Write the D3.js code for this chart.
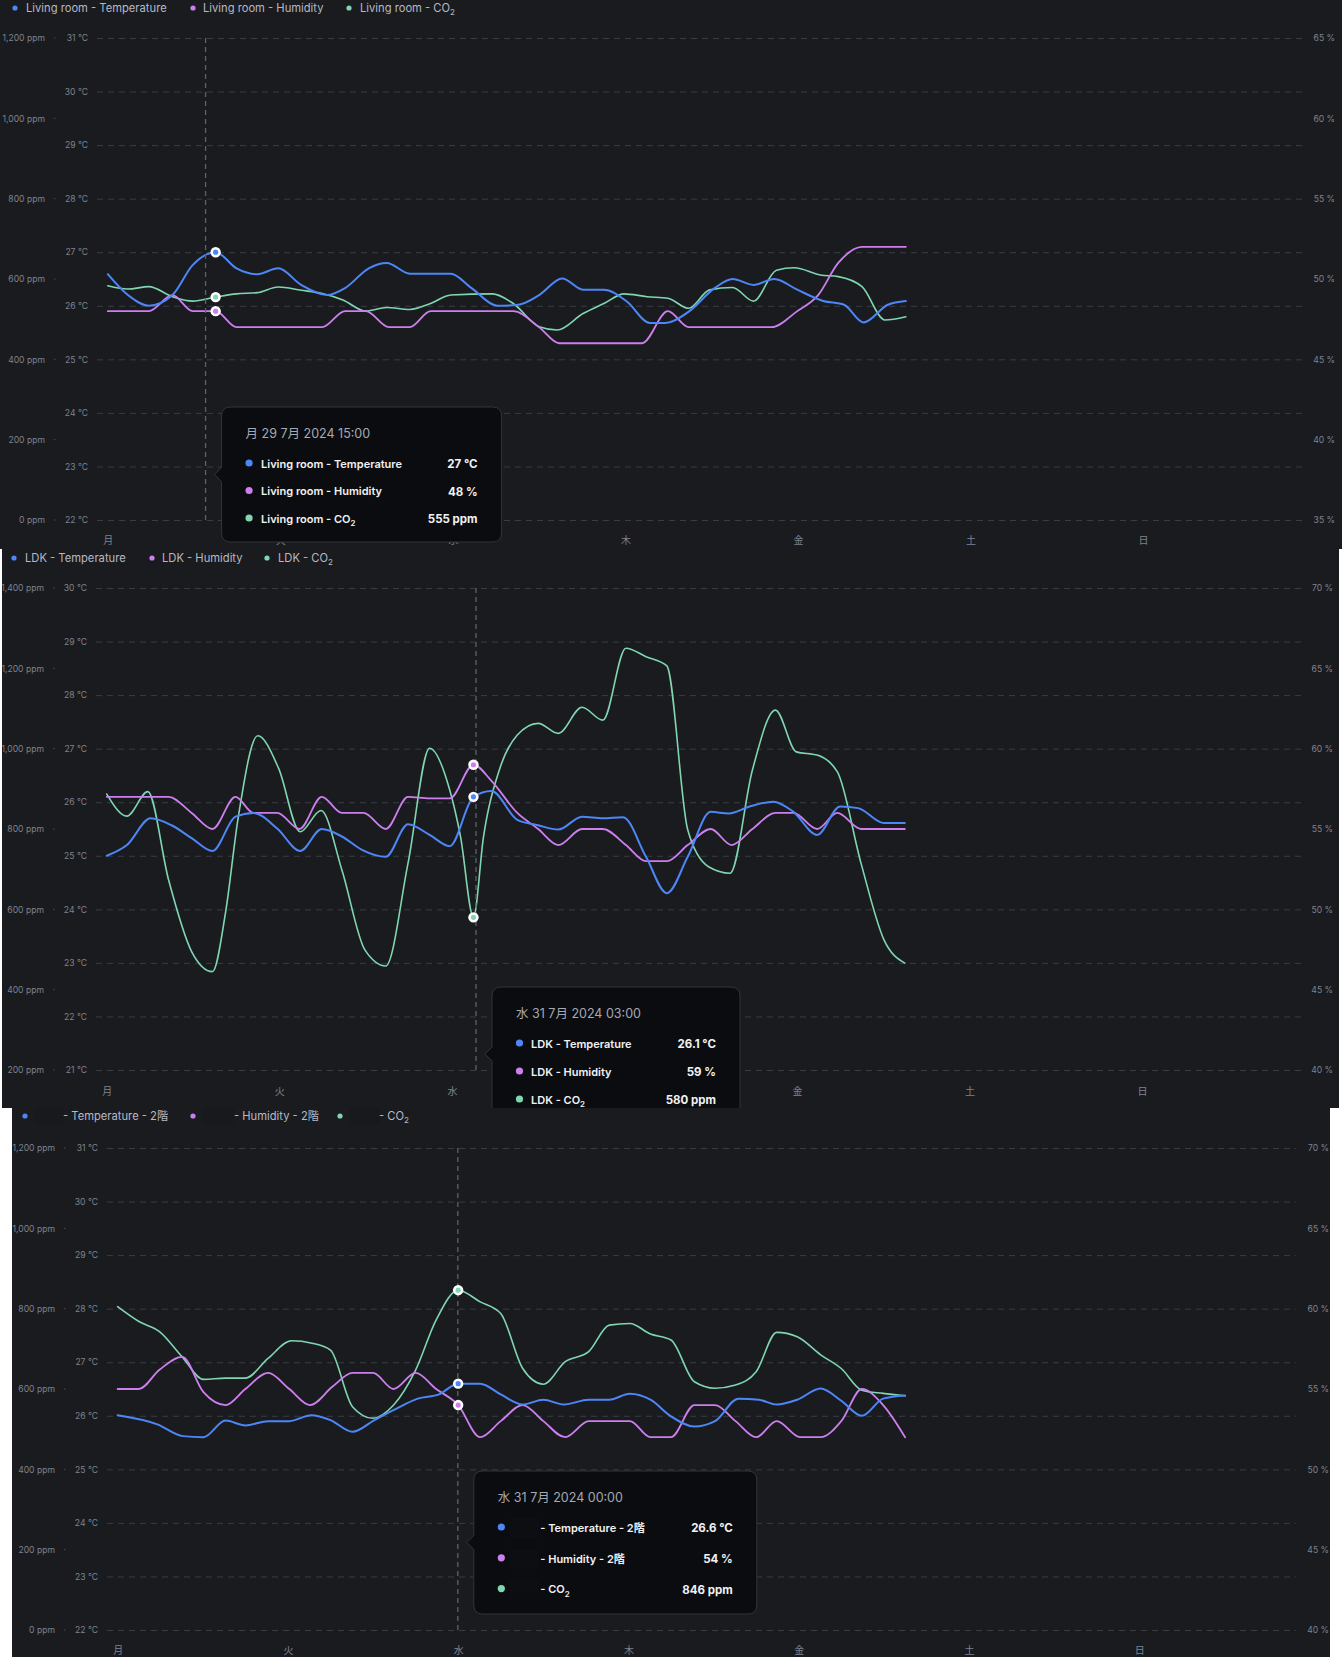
<!DOCTYPE html>
<html><head><meta charset="utf-8">
<script src="https://cdn.jsdelivr.net/npm/d3@7"></script>
<style>
html,body{margin:0;padding:0;background:#ffffff;}
svg{display:block;font-family:Inter,"Noto Sans CJK JP",sans-serif;}
</style></head><body>
<svg id="c" width="1342" height="1657"></svg>
<script>
// ---------------- DATA ----------------
const days = ["月","火","水","木","金","土","日"];
const dayTicks = [0,24,48,72,96,120,144];           // hours from Monday 00:00
const hourDomain = [-1.5,166.1];

// Panel 1 : Living room  [hour, value]
const lrLabels = ["Living room - Temperature","Living room - Humidity","Living room - CO₂"];
const lrTemp = [[0,26.59],[2.8,26.2],[5.7,26.0],[9,26.2],[11.8,26.76],[15,27.0],[17.9,26.7],[20.8,26.59],[23.7,26.7],[26.9,26.39],[30.5,26.2],[33,26.33],[36.3,26.7],[38.8,26.8],[42,26.6],[47.7,26.6],[50.6,26.33],[54.2,26.0],[57.1,26.02],[60,26.2],[63.2,26.51],[66.1,26.3],[69,26.3],[72.2,26.08],[75.4,25.68],[77.6,25.68],[80.8,25.89],[84.4,26.33],[86.9,26.5],[89.8,26.39],[92.7,26.5],[95.9,26.3],[99.5,26.09],[102.4,26.02],[105.1,25.69],[108.5,26.02],[111,26.09]];
const lrHum = [[0,48],[5.7,48],[9,49],[11.8,48],[15,48],[17.9,47],[29.8,47],[33,48],[35.9,48],[39.1,47],[42,47],[44.9,48],[56.4,48],[60,47],[62.8,46],[74.3,46],[77.9,48],[80.8,47],[92.3,47],[95.9,48],[98.8,49],[101.6,51],[104.9,52],[111,52]];
const lrCo2 = [[0,583],[2.8,575],[5.7,581],[9,556],[11.8,545],[15,555],[17.9,563],[20.8,566],[23.7,580],[26.9,572],[29.8,564],[32.7,548],[35.9,520],[38.8,529],[42,524],[44.9,539],[47.7,560],[53.5,563],[56.4,539],[60,481],[62.5,473],[66.1,514],[69,539],[71.8,563],[75,556],[77.9,552],[80.8,527],[83.7,573],[86.9,579],[89.8,545],[93,622],[95.5,628],[99.1,610],[101.6,606],[104.9,581],[108.1,498],[111,506]];
const lrTempTicks = [22,23,24,25,26,27,28,29,30,31];
const lrHumTicks = [35,40,45,50,55,60,65];
const lrCo2Ticks = [0,200,400,600,800,1000,1200];
const lrTip = {title:"月 29 7月 2024 15:00", hour:15, values:["27 °C","48 %","555 ppm"]};

// Panel 2 : LDK
const ldkLabels = ["LDK - Temperature","LDK - Humidity","LDK - CO₂"];
const ldkTemp = [[0,25.0],[2.8,25.2],[6.1,25.7],[9,25.57],[11.8,25.33],[14.7,25.09],[17.9,25.73],[20.4,25.8],[23.7,25.51],[26.9,25.09],[29.9,25.5],[32.7,25.36],[35.5,25.11],[38.8,24.98],[41.9,25.59],[44.9,25.39],[47.7,25.18],[51,26.1],[53.5,26.21],[57.1,25.67],[60,25.57],[62.8,25.49],[66.1,25.73],[69,25.70],[71.8,25.72],[75,24.98],[77.9,24.30],[80.8,24.98],[84,25.82],[86.5,25.79],[89.4,25.92],[92.7,26.01],[95.5,25.82],[98.8,25.39],[102,25.92],[104.5,25.89],[108.1,25.61],[111,25.61]];
const ldkHum = [[0,57],[8.6,57],[11.8,56],[14.7,55],[17.9,57],[20.4,56],[23.7,56],[26.8,55],[29.9,57],[32.7,56],[35.7,56],[38.8,55],[41.9,57],[44.9,56.9],[47.7,56.9],[51,59],[53.5,58],[57.1,56],[60,55],[62.8,54],[66.1,55],[69,55],[72.2,54],[75,53],[77.9,53],[80.8,54],[84,55],[86.9,54],[89.8,55],[93,56],[95.5,56],[98.8,55],[101.6,56],[104.9,55],[111,55]];
const ldkCo2 = [[0,887],[2.8,832],[5.7,893],[8.6,673],[11.8,495],[14.7,445],[16.5,590],[18.3,831],[21,1032],[23.9,951],[26.9,793],[29.8,846],[32.7,698],[35.9,499],[38.8,459],[41.9,715],[44.9,1001],[47.7,897],[49.2,781],[51,580],[52.4,781],[54.6,947],[57.1,1034],[60,1063],[62.8,1038],[66.1,1103],[69,1071],[72.2,1250],[75,1229],[77.9,1206],[80.8,798],[83.7,706],[86.7,690],[89.8,947],[93,1096],[95.9,992],[98.8,984],[101.6,943],[104.9,715],[108.1,524],[111,466]];
const ldkTempTicks = [21,22,23,24,25,26,27,28,29,30];
const ldkHumTicks = [40,45,50,55,60,65,70];
const ldkCo2Ticks = [200,400,600,800,1000,1200,1400];
const ldkTip = {title:"水 31 7月 2024 03:00", hour:51, values:["26.1 °C","59 %","580 ppm"]};

// Panel 3 : 2階
const upLabels = ["- Temperature - 2階","- Humidity - 2階","- CO₂"];
const upTemp = [[0,26.01],[5.6,25.84],[9.2,25.62],[12.1,25.60],[15.2,25.91],[18,25.82],[21.2,25.90],[24.2,25.90],[27.3,26.01],[30,25.92],[33.1,25.70],[36.2,25.92],[39.1,26.12],[42.3,26.32],[45.3,26.40],[48,26.6],[51.1,26.60],[54,26.40],[57.1,26.21],[60,26.30],[62.9,26.21],[66.4,26.30],[69.3,26.30],[72.2,26.41],[75.1,26.30],[78,25.99],[81.3,25.80],[84.2,25.90],[87.5,26.32],[90.4,26.30],[92.9,26.21],[95.8,26.30],[99.1,26.51],[102,26.28],[104.9,26.0],[107.9,26.32],[111,26.38]];
const upHum = [[0,55],[3,55],[5.9,56.2],[9.1,57],[12.1,54.8],[15.2,54],[18,55],[21.2,56],[24.2,55],[27.1,54],[30.3,55.15],[33.1,56],[36,56],[38.9,55],[42,56],[44.9,55],[48,54],[51.1,52],[54,53],[57.1,54],[60,53],[63.1,52],[66.4,53],[69.3,53],[72.2,53],[75.1,52],[78,52],[81.3,54],[84.2,54],[87.1,53],[90,52],[92.9,53],[96.2,52],[99.1,52],[102,53],[104.9,55],[107.9,54],[111,52]];
const upCo2 = [[0,805],[3,768],[5.9,743],[9.1,680],[12.1,624],[15.2,627],[18,627],[21.2,676],[24.5,720],[27.4,714],[30,697],[33.1,556],[36,527],[38.9,560],[42,647],[44.9,772],[48,846],[51.1,817],[54,788],[57.1,651],[60,612],[63.1,668],[66.4,693],[69.3,759],[72.2,763],[75.1,737],[78,722],[81.3,618],[84.2,602],[87.1,610],[90,643],[92.9,741],[95.8,730],[99.1,685],[102,651],[104.9,597],[107.9,589],[111,583]];
const upTempTicks = [22,23,24,25,26,27,28,29,30,31];
const upHumTicks = [40,45,50,55,60,65,70];
const upCo2Ticks = [0,200,400,600,800,1000,1200];
const upTip = {title:"水 31 7月 2024 00:00", hour:48, values:["26.6 °C","54 %","846 ppm"]};

const pointerHours = [13.6, 51.35, 47.95];   // crosshair (mouse) positions

// ---------------- STYLE / LAYOUT ----------------
const COLORS = ["#4d86f7","#cd7ff0","#7fd6b0"];
const BG = "#1a1b1f", GRID = "#3a3c44", AXTXT = "#7f838e", LEGTXT = "#b6b9c3";
const AXFONT = 8.6, LEGFONT = 11.2, TIPFONT = 11;

const panels = [
  {box:[0,0,1342,549], left:97, right:1302, top:38, bottom:520, legY:8, legDot:[15,193,349], legTxt:[26,203,360],
   ppmX:45, tempX:88, pctX:1335, xLabY:540, tipTop:407, tipW:280, tipH:135, rowGap:27.5, lblOff:39.5, redact:false,
   labels:lrLabels, series:[lrTemp,lrHum,lrCo2], tDom:[22,31], hDom:[35,65], cDom:[0,1200],
   tTicks:lrTempTicks, hTicks:lrHumTicks, cTicks:lrCo2Ticks, tip:lrTip},
  {box:[2,549,1337,559], left:96, right:1301, top:588, bottom:1070, legY:558, legDot:[14,152,267], legTxt:[25,162,278],
   ppmX:44, tempX:87, pctX:1333, xLabY:1091, tipTop:987, tipW:248, tipH:134, rowGap:28, lblOff:39, redact:false,
   labels:ldkLabels, series:[ldkTemp,ldkHum,ldkCo2], tDom:[21,30], hDom:[40,70], cDom:[200,1400],
   tTicks:ldkTempTicks, hTicks:ldkHumTicks, cTicks:ldkCo2Ticks, tip:ldkTip},
  {box:[12,1108,1318,549], left:107, right:1296, top:1148, bottom:1630, legY:1116, legDot:[25,193,340], legTxt:[63,234,379],
   ppmX:55, tempX:98, pctX:1329, xLabY:1650, tipTop:1471, tipW:283, tipH:143, rowGap:30.8, lblOff:66.5, redact:true,
   labels:upLabels, series:[upTemp,upHum,upCo2], tDom:[22,31], hDom:[40,70], cDom:[0,1200],
   tTicks:upTempTicks, hTicks:upHumTicks, cTicks:upCo2Ticks, tip:upTip}
];

const svg = d3.select("#c");
svg.append("rect").attr("width",1342).attr("height",1657).attr("fill","#ffffff");
const defs = svg.append("defs");

function addLabel(sel, str, size){
  const parts = str.split("₂");
  sel.text(null);
  sel.append("tspan").text(parts[0]);
  if (parts.length > 1){
    sel.append("tspan").attr("font-size", size*0.72).attr("dy", size*0.3).text("2");
    if (parts[1]) sel.append("tspan").attr("dy", -size*0.3).text(parts[1]);
  }
}

panels.forEach((p, pi) => {
  const [bx,by,bw,bh] = p.box;
  defs.append("clipPath").attr("id","clip"+pi).append("rect")
    .attr("x",bx).attr("y",by).attr("width",bw).attr("height",bh);
  const g = svg.append("g").attr("clip-path",`url(#clip${pi})`);
  g.append("rect").attr("x",bx).attr("y",by).attr("width",bw).attr("height",bh).attr("fill",BG);

  const x = d3.scaleLinear().domain(hourDomain).range([p.left,p.right]);
  const yT = d3.scaleLinear().domain(p.tDom).range([p.bottom,p.top]);
  const yH = d3.scaleLinear().domain(p.hDom).range([p.bottom,p.top]);
  const yC = d3.scaleLinear().domain(p.cDom).range([p.bottom,p.top]);
  const scales = [yT,yH,yC];

  // grid
  const grid = g.append("g").attr("transform",`translate(${p.left},0)`)
    .call(d3.axisLeft(yT).tickValues(p.tTicks).tickSize(-(p.right-p.left)).tickFormat(""));
  grid.select(".domain").remove();
  grid.selectAll("line").attr("stroke",GRID).attr("stroke-dasharray","6,5").attr("stroke-width",1);

  const styleAxis = (ax) => {
    ax.select(".domain").remove();
    ax.selectAll("line").remove();
    ax.attr("font-family",null).attr("font-size",null);
    ax.selectAll("text").attr("fill",AXTXT).attr("font-size",AXFONT);
  };
  const aT = g.append("g").attr("transform",`translate(${p.tempX},0)`)
    .call(d3.axisLeft(yT).tickValues(p.tTicks).tickSize(0).tickPadding(0).tickFormat(d=>d+" °C"));
  styleAxis(aT);
  const aC = g.append("g").attr("transform",`translate(${p.ppmX},0)`)
    .call(d3.axisLeft(yC).tickValues(p.cTicks).tickSize(0).tickPadding(0).tickFormat(d=>d3.format(",")(d)+" ppm"));
  styleAxis(aC);
  const aH = g.append("g").attr("transform",`translate(${p.pctX},0)`)
    .call(d3.axisRight(yH).tickValues(p.hTicks).tickSize(0).tickPadding(0).tickFormat(d=>d+" %"));
  styleAxis(aH);
  aH.selectAll("text").attr("text-anchor","end");
  // tiny ticks next to ppm labels
  g.selectAll(".ppmtick").data(p.cTicks).enter().append("line")
    .attr("x1",p.ppmX+9).attr("x2",p.ppmX+10.5).attr("y1",d=>yC(d)).attr("y2",d=>yC(d))
    .attr("stroke","#4a4d56").attr("stroke-width",1);

  const aX = g.append("g").attr("transform",`translate(0,${p.xLabY})`)
    .call(d3.axisBottom(x).tickValues(dayTicks).tickSize(0).tickPadding(0).tickFormat((d,i)=>days[i]));
  styleAxis(aX);
  aX.selectAll("text").attr("dy","0.35em").attr("font-size",10);

  // legend
  p.labels.forEach((lab,i)=>{
    g.append("circle").attr("cx",p.legDot[i]).attr("cy",p.legY).attr("r",2.6).attr("fill",COLORS[i]);
    if (p.redact){
      g.append("rect").attr("x",p.legDot[i]+9).attr("y",p.legY-9).attr("width",p.legTxt[i]-p.legDot[i]-8).attr("height",18)
        .attr("fill","#18191d");
    }
    const t = g.append("text").attr("x",p.legTxt[i]).attr("y",p.legY).attr("dy","0.35em")
      .attr("fill",LEGTXT).attr("font-size",LEGFONT);
    addLabel(t, lab, LEGFONT);
  });

  // lines
  const line = (ys) => d3.line().x(d=>x(d[0])).y(d=>ys(d[1])).curve(d3.curveMonotoneX);
  const widths = [2,1.8,1.6];
  [2,1,0].forEach(i=>{
    g.append("path").datum(p.series[i]).attr("d",line(scales[i]))
      .attr("fill","none").attr("stroke",COLORS[i]).attr("stroke-width",widths[i])
      .attr("stroke-linejoin","round").attr("stroke-linecap","round");
  });

  // crosshair
  const cx = x(pointerHours[pi]);
  g.append("line").attr("x1",cx).attr("x2",cx).attr("y1",p.top).attr("y2",p.bottom)
    .attr("stroke","#5d616b").attr("stroke-width",1.3).attr("stroke-dasharray","5,4");

  // markers
  p.series.forEach((s,i)=>{
    const pt = s.find(d=>d[0]===p.tip.hour);
    if (!pt) return;
    g.append("circle").attr("cx",x(pt[0])).attr("cy",scales[i](pt[1])).attr("r",5.2).attr("fill","#ffffff");
    g.append("circle").attr("cx",x(pt[0])).attr("cy",scales[i](pt[1])).attr("r",2.6).attr("fill",COLORS[i]);
  });

  // tooltip
  const L = cx + 16, T = p.tipTop, R = L + p.tipW, B = T + p.tipH, my = T + p.tipH/2, r = 9, a = 7;
  const path = `M${L+r},${T} H${R-r} Q${R},${T} ${R},${T+r} V${B-r} Q${R},${B} ${R-r},${B} H${L+r} Q${L},${B} ${L},${B-r} V${my+a} L${L-a},${my} L${L},${my-a} V${T+r} Q${L},${T} ${L+r},${T} Z`;
  g.append("path").attr("d",path).attr("fill","#0b0c0f").attr("stroke","#32343c").attr("stroke-width",1);
  g.append("text").attr("x",L+24).attr("y",T+27).attr("dy","0.35em").attr("fill","#a5a9b4")
    .attr("font-size",12.5).text(p.tip.title);
  p.labels.forEach((lab,i)=>{
    const ry = T + 57 + i*p.rowGap;
    g.append("circle").attr("cx",L+27.5).attr("cy",ry-1).attr("r",3.6).attr("fill",COLORS[i]);
    if (p.redact){
      g.append("rect").attr("x",L+35).attr("y",ry-10).attr("width",p.lblOff-36).attr("height",20).attr("fill","#0d0e11");
    }
    const t = g.append("text").attr("x",L+p.lblOff).attr("y",ry).attr("dy","0.35em")
      .attr("fill","#f1f2f4").attr("font-size",TIPFONT).attr("font-weight",600);
    addLabel(t, lab, TIPFONT);
    g.append("text").attr("x",R-24).attr("y",ry).attr("dy","0.35em").attr("text-anchor","end")
      .attr("fill","#f1f2f4").attr("font-size",TIPFONT+0.5).attr("font-weight",700).text(p.tip.values[i]);
  });
});
</script>
</body></html>
